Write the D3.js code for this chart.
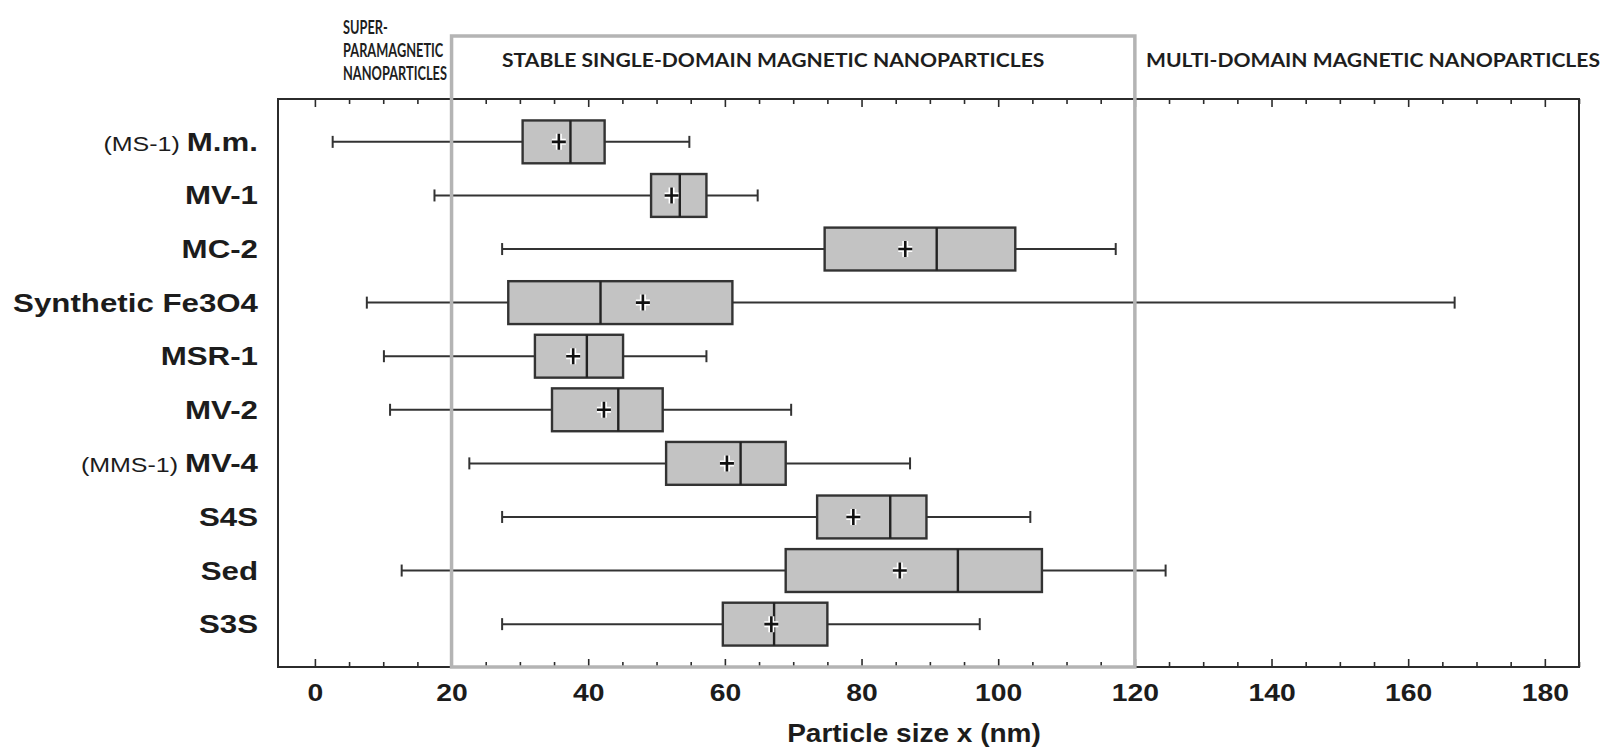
<!DOCTYPE html>
<html lang="en">
<head>
  <meta charset="UTF-8" />
  <title>Particle size box plot</title>
  <script src="https://d3js.org/d3.v7.min.js"></script>
  <style>
    html, body { margin: 0; padding: 0; background: #ffffff; overflow: hidden; }
    svg { display: block; }
    .cat { font-family: 'Liberation Sans', Arial, sans-serif; font-weight: bold; font-size: 25px; fill: #1c1c1c; }
    .cat .pre { font-weight: normal; font-size: 20px; }
    .tick text { font-family: 'Liberation Sans', Arial, sans-serif; font-weight: bold; font-size: 24px; fill: #1c1c1c; }
    .axis-title { font-family: 'Liberation Sans', Arial, sans-serif; font-weight: bold; font-size: 25px; fill: #1c1c1c; }
    .zone { font-family: Lato, 'Open Sans', sans-serif; font-weight: bold; font-size: 19px; fill: #1e1e1e; }
    .zone.small { font-size: 18px; }
  </style>
</head>
<body>
  <svg id="chart" width="1615" height="751"></svg>
  <script>
    // data (nm)
    const labelPrefix = ["(MS-1) ", "", "", "", "", "", "(MMS-1) ", "", "", ""];
    const categories = ["M.m.", "MV-1", "MC-2", "Synthetic Fe3O4", "MSR-1", "MV-2", "MV-4", "S4S", "Sed", "S3S"];
    const whiskerLow  = [2.6, 17.5, 27.4, 7.6, 10.1, 11.0, 22.6, 27.4, 12.7, 27.4];
    const q1          = [30.4, 49.2, 74.6, 28.3, 32.2, 34.7, 51.4, 73.5, 68.9, 59.7];
    const median      = [37.4, 53.4, 91.0, 41.8, 39.8, 44.4, 62.3, 84.2, 94.1, 67.2];
    const q3          = [42.4, 57.3, 102.5, 61.1, 45.1, 50.9, 68.9, 89.5, 106.4, 75.0];
    const whiskerHigh = [54.8, 64.8, 117.2, 166.8, 57.3, 69.7, 87.1, 104.7, 124.5, 97.3];
    const mean        = [35.7, 52.2, 86.4, 48.0, 37.8, 42.3, 60.3, 78.8, 85.6, 66.8];

    const majorTicks = d3.range(0, 181, 20);
    const minorTicks = d3.range(0, 186, 5).filter(d => d % 20 !== 0);
    const zoneBounds = [20, 120];
    const superLines = ["SUPER-", "PARAMAGNETIC", "NANOPARTICLES"];
    const xTitle = "Particle size x (nm)";

    const rows = categories.map((c, i) => ({
      key: c, pre: labelPrefix[i], lo: whiskerLow[i], q1: q1[i], med: median[i],
      q3: q3[i], hi: whiskerHigh[i], mean: mean[i]
    }));

    const svg = d3.select("#chart");
    const margin = { top: 99, right: 36, bottom: 84, left: 278 };
    const W = 1615, H = 751;
    const plotB = H - margin.bottom, plotR = W - margin.right;

    const x = d3.scaleLinear().domain([-5.4, 185]).range([margin.left, plotR]);
    const y = d3.scalePoint().domain(categories).range([margin.top, plotB]).padding(0.8);
    const boxH = y.step() * 0.8;
    const stretch = 1.18;  // the source figure is stretched sideways

    function widen(sel, k) {
      sel.each(function () {
        const w = this.getComputedTextLength();
        d3.select(this).attr("textLength", w * k).attr("lengthAdjust", "spacingAndGlyphs");
      });
    }

    // axes: majors + minors, ticks pointing inward, on top and bottom
    const gb = svg.append("g").attr("transform", `translate(0,${plotB})`)
      .call(d3.axisBottom(x).tickValues(majorTicks).tickSize(-8).tickPadding(17).tickFormat(d3.format("d")));
    svg.append("g").attr("transform", `translate(0,${plotB})`)
      .call(d3.axisBottom(x).tickValues(minorTicks).tickSize(-5).tickFormat(""));
    svg.append("g").attr("transform", `translate(0,${margin.top})`)
      .call(d3.axisTop(x).tickValues(majorTicks).tickSize(-8).tickFormat(""));
    svg.append("g").attr("transform", `translate(0,${margin.top})`)
      .call(d3.axisTop(x).tickValues(minorTicks).tickSize(-5).tickFormat(""));
    svg.selectAll(".domain").remove();
    svg.selectAll(".tick line").attr("stroke", "#2b2b2b").attr("stroke-width", 1.6);
    widen(gb.selectAll(".tick text"), stretch);

    svg.append("rect")
      .attr("x", margin.left).attr("y", margin.top)
      .attr("width", plotR - margin.left).attr("height", plotB - margin.top)
      .attr("fill", "none").attr("stroke", "#2b2b2b").attr("stroke-width", 2);

    // boxes
    const g = svg.append("g").selectAll("g").data(rows).join("g")
      .attr("transform", d => `translate(0,${y(d.key)})`);

    g.append("line").attr("x1", d => x(d.lo)).attr("x2", d => x(d.hi))
      .attr("stroke", "#333").attr("stroke-width", 2);
    g.append("line").attr("x1", d => x(d.lo)).attr("x2", d => x(d.lo))
      .attr("y1", -6).attr("y2", 6).attr("stroke", "#333").attr("stroke-width", 2);
    g.append("line").attr("x1", d => x(d.hi)).attr("x2", d => x(d.hi))
      .attr("y1", -6).attr("y2", 6).attr("stroke", "#333").attr("stroke-width", 2);
    g.append("rect")
      .attr("x", d => x(d.q1)).attr("y", -boxH / 2)
      .attr("width", d => x(d.q3) - x(d.q1)).attr("height", boxH)
      .attr("fill", "#c3c3c3").attr("stroke", "#333").attr("stroke-width", 2.4);
    g.append("line").attr("x1", d => x(d.med)).attr("x2", d => x(d.med))
      .attr("y1", -boxH / 2).attr("y2", boxH / 2).attr("stroke", "#222").attr("stroke-width", 2.4);

    // mean marker: plus with a white halo
    const plus = "M-7,0H7M0,-8V8";
    g.append("path").attr("d", plus).attr("transform", d => `translate(${x(d.mean)},0)`)
      .attr("stroke", "#fff").attr("stroke-width", 6);
    g.append("path").attr("d", plus).attr("transform", d => `translate(${x(d.mean)},0)`)
      .attr("stroke", "#111").attr("stroke-width", 2.6);

    // category labels
    const lab = svg.append("g").selectAll("text").data(rows).join("text")
      .attr("class", "cat")
      .attr("x", margin.left - 20).attr("y", d => y(d.key)).attr("dy", "0.36em")
      .attr("text-anchor", "end");
    lab.append("tspan").attr("class", "pre").text(d => d.pre);
    lab.append("tspan").text(d => d.key);
    widen(lab, 1.25);

    // single-domain zone box, drawn over the plot
    svg.append("rect")
      .attr("x", x(zoneBounds[0])).attr("y", 36)
      .attr("width", x(zoneBounds[1]) - x(zoneBounds[0])).attr("height", plotB - 36)
      .attr("fill", "none").attr("stroke", "#b4b4b4").attr("stroke-width", 3.5);

    const sp = svg.append("g").selectAll("text").data(superLines).join("text")
      .attr("class", "zone small")
      .attr("x", 343).attr("y", (d, i) => 28 + i * 23).attr("dy", "0.35em").text(d => d);
    widen(sp, 0.71);

    const zoneText = svg.append("g");
    zoneText.append("text").attr("class", "zone").attr("x", 502).attr("y", 60).attr("dy", "0.35em")
      .text("STABLE SINGLE-DOMAIN MAGNETIC NANOPARTICLES");
    zoneText.append("text").attr("class", "zone").attr("x", 1146).attr("y", 60).attr("dy", "0.35em")
      .text("MULTI-DOMAIN MAGNETIC NANOPARTICLES");
    widen(zoneText.selectAll("text"), 1.11);

    const t = svg.append("text").attr("class", "axis-title")
      .attr("x", 914).attr("y", 742).attr("text-anchor", "middle").text(xTitle);
    widen(t, 1.12);
  </script>
</body>
</html>
